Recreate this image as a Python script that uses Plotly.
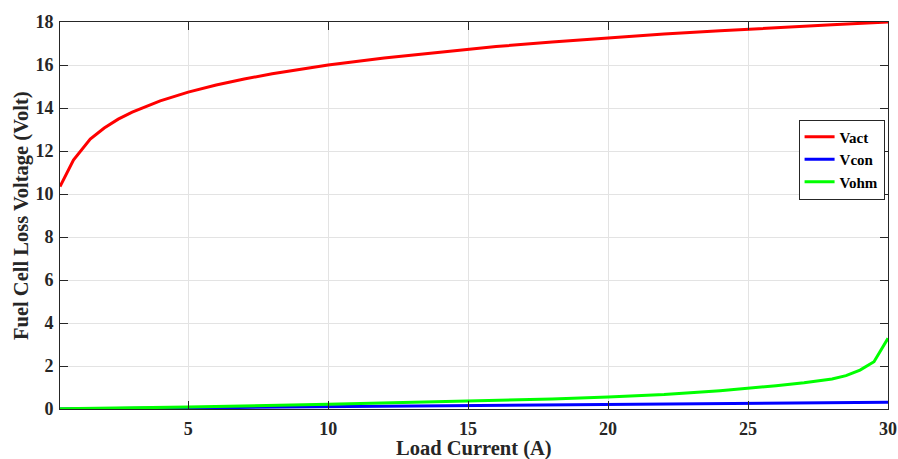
import plotly.graph_objects as go

# Load current (A) sample points and loss voltages (V)
current_act = [0.42, 0.9, 1.5, 2, 2.5, 3, 4, 5, 6, 7, 8, 10, 12, 14, 16, 18, 20, 22, 24, 26, 28, 30]
v_act = [10.35, 11.58, 12.55, 13.07, 13.48, 13.81, 14.33, 14.74, 15.07, 15.35, 15.59, 16.00,
         16.33, 16.61, 16.86, 17.07, 17.26, 17.44, 17.59, 17.74, 17.87, 18.00]

current_con = [0.42, 5, 10, 15, 20, 25, 30]
v_con = [0.004, 0.05, 0.10, 0.14, 0.18, 0.24, 0.31]

current_ohm = [0.42, 2, 5, 10, 15, 18, 20, 22, 24, 25, 26, 27, 28, 28.5, 29, 29.5, 30]
v_ohm = [0.01, 0.03, 0.09, 0.22, 0.37, 0.47, 0.56, 0.67, 0.85, 0.96, 1.08, 1.22, 1.40, 1.55, 1.81, 2.2, 3.29]

x_ticks = [5, 10, 15, 20, 25, 30]
y_ticks = [0, 2, 4, 6, 8, 10, 12, 14, 16, 18]

x_title = "Load Current (A)"
y_title = "Fuel Cell Loss Voltage (Volt)"

font_family = "Liberation Serif, Times New Roman, serif"
ink = "#262626"

fig = go.Figure()
fig.add_trace(go.Scatter(x=current_act, y=v_act, mode="lines", name="Vact",
                         line=dict(color="#ff0000", width=3)))
fig.add_trace(go.Scatter(x=current_con, y=v_con, mode="lines", name="Vcon",
                         line=dict(color="#0000ff", width=3)))
fig.add_trace(go.Scatter(x=current_ohm, y=v_ohm, mode="lines", name="Vohm",
                         line=dict(color="#00ff00", width=3)))

axis_common = dict(
    showline=True, linecolor=ink, linewidth=1, mirror="ticks",
    ticks="inside", ticklen=8, tickcolor=ink,
    showgrid=True, gridcolor="#e3e3e3", gridwidth=1,
    zeroline=False, automargin=False,
    tickfont=dict(family=font_family, size=18, color=ink, weight="bold"),
)

fig.update_layout(
    width=898, height=459,
    margin=dict(l=60, r=10, t=22, b=50),
    paper_bgcolor="white", plot_bgcolor="white",
    font=dict(family=font_family, color=ink),
    xaxis=dict(range=[0.42, 30], tickvals=x_ticks, ticklabelstandoff=3, **axis_common),
    yaxis=dict(range=[0, 18], tickvals=y_ticks, ticklabelstandoff=2, **axis_common),
    legend=dict(x=0.892, y=0.748, xanchor="left", yanchor="top",
                bgcolor="white", bordercolor=ink, borderwidth=1,
                font=dict(family=font_family, size=15, color="black", weight="bold"),
                tracegroupgap=0, itemwidth=30),
    showlegend=True,
)

# Axis titles placed in paper coordinates below / left of the plotting area
fig.add_annotation(text=f"<b>{x_title}</b>", xref="paper", yref="paper",
                   x=0.5, y=-0.103, xanchor="center", yanchor="middle", showarrow=False,
                   font=dict(family=font_family, size=20.5, color=ink))
fig.add_annotation(text=f"<b>{y_title}</b>", xref="paper", yref="paper",
                   x=-0.0465, y=0.5, xanchor="center", yanchor="middle", showarrow=False,
                   textangle=-90, font=dict(family=font_family, size=20.5, color=ink))

fig.write_html("out.html")
